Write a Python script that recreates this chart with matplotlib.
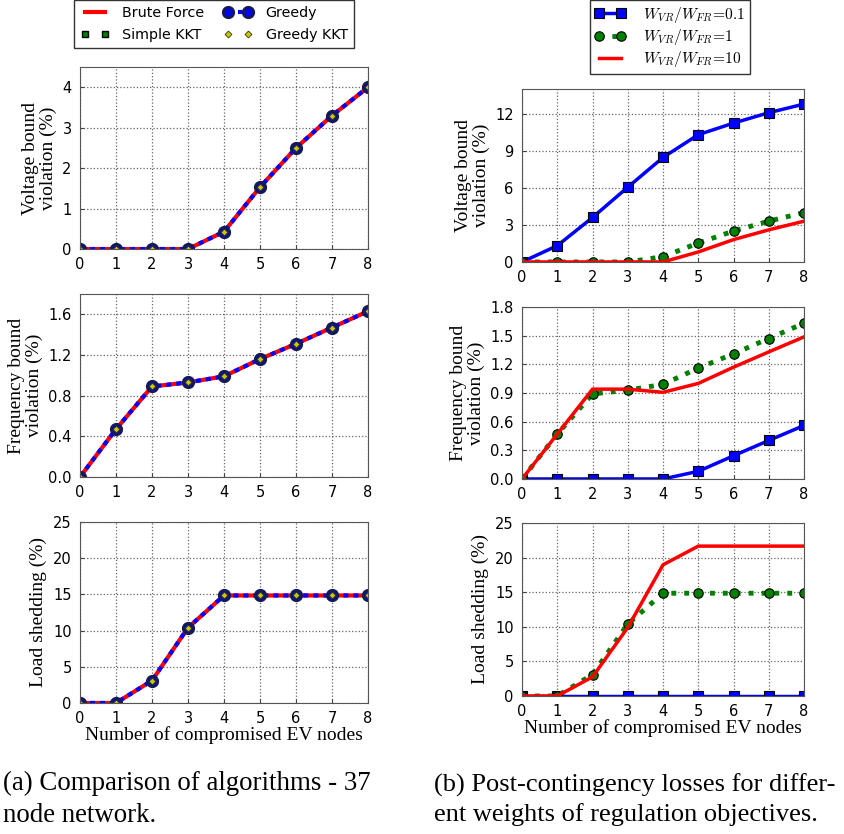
import numpy as np
import matplotlib
matplotlib.use("Agg")
import matplotlib.pyplot as plt

plt.rcParams['mathtext.fontset'] = 'cm'

# x axis: number of compromised EV nodes
nodes = [0, 1, 2, 3, 4, 5, 6, 7, 8]

# (a) comparison of algorithms - all four algorithms give the same values
volt_a = [0, 0, 0, 0, 0.43, 1.53, 2.5, 3.3, 4.0]
freq_a = [0, 0.47, 0.89, 0.93, 0.99, 1.16, 1.31, 1.47, 1.63]
load_a = [0, 0, 3.1, 10.4, 14.85, 14.85, 14.85, 14.85, 14.85]

# (b) different weights W_VR/W_FR = 0.1, 1, 10
volt_01 = [0, 1.32, 3.6, 6.05, 8.46, 10.3, 11.24, 12.08, 12.78]
volt_1 = [0, 0, 0, 0, 0.43, 1.53, 2.5, 3.3, 4.0]
volt_10 = [0, 0, 0, 0, 0, 0.81, 1.81, 2.6, 3.3]

freq_01 = [0, 0, 0, 0, 0, 0.08, 0.243, 0.403, 0.56]
freq_1 = [0, 0.47, 0.89, 0.93, 0.99, 1.16, 1.31, 1.47, 1.63]
freq_10 = [0, 0.47, 0.94, 0.94, 0.907, 1.0, 1.17, 1.33, 1.487]

load_01 = [0, 0, 0, 0, 0, 0, 0, 0, 0]
load_1 = [0, 0, 3.1, 10.4, 14.85, 14.85, 14.85, 14.85, 14.85]
load_10 = [0, 0, 2.76, 9.9, 18.96, 21.66, 21.66, 21.66, 21.66]

algo_labels = ["Brute Force", "Simple KKT", "Greedy", "Greedy KKT"]
weight_labels = [r"$W_{VR}/W_{FR}\!=\!0.1$", r"$W_{VR}/W_{FR}\!=\!1$",
                 r"$W_{VR}/W_{FR}\!=\!10$"]

ylabels = ["Voltage bound\nviolation (%)", "Frequency bound\nviolation (%)",
           "Load shedding (%)"]

serif = ['Liberation Serif', 'DejaVu Serif']

fig = plt.figure(figsize=(8.45, 8.34), dpi=100)

left_pos = [[0.0947, 0.7014, 0.3408, 0.2182],
            [0.0947, 0.4281, 0.3408, 0.2194],
            [0.0947, 0.1571, 0.3408, 0.2170]]
right_pos = [[0.6178, 0.6859, 0.3337, 0.2074],
             [0.6178, 0.4257, 0.3337, 0.2062],
             [0.6178, 0.1655, 0.3337, 0.2074]]


def style_axis(ax, ylim, yticks, fmt, ylabel, xlabel=False):
    ax.set_xlim(0, 8)
    ax.set_xticks(nodes)
    ax.set_ylim(*ylim)
    ax.set_yticks(yticks)
    ax.set_yticklabels([fmt.format(t) for t in yticks])
    ax.grid(True, linestyle=':', color='#666666', linewidth=0.9)
    ax.set_axisbelow(True)
    ax.tick_params(direction='in', labelsize=10.5, length=3, pad=6,
                   color='#444444')
    for sp in ax.spines.values():
        sp.set_color('#555555')
    ax.set_ylabel(ylabel, family=serif, fontsize=14, linespacing=1.0, labelpad=4)
    if xlabel:
        ax.set_xlabel("Number of compromised EV nodes", family=serif,
                      fontsize=14, labelpad=0)


# ---- (a) ----
data_a = [volt_a, freq_a, load_a]
lims_a = [(0, 4.5), (0, 1.8), (0, 25)]
ticks_a = [[0, 1, 2, 3, 4], [0, 0.4, 0.8, 1.2, 1.6], [0, 5, 10, 15, 20, 25]]
fmts_a = ["{:.0f}", "{:.1f}", "{:.0f}"]
for i in range(3):
    ax = fig.add_axes(left_pos[i])
    y = data_a[i]
    h1, = ax.plot(nodes, y, '-', color='red', lw=3, label=algo_labels[0])
    h2, = ax.plot(nodes, y, 's', color='green', mec='black', ms=5, label=algo_labels[1])
    h3, = ax.plot(nodes, y, 'o', color='blue', ls=(0, (1.2, 1.2)), lw=3,
                  mec='#141a55', mew=2, ms=7.5, label=algo_labels[2])
    h4, = ax.plot(nodes, y, 'D', color='#c8c800', mec='#333300', mew=0.6, ms=3.5,
                  label=algo_labels[3])
    style_axis(ax, lims_a[i], ticks_a[i], fmts_a[i], ylabels[i], xlabel=(i == 2))

fig.legend(handles=[h1, h2, h3, h4], loc='upper left', ncol=2, numpoints=2,
           bbox_to_anchor=(74 / 845, 1.0), borderaxespad=0, fontsize=10.3,
           frameon=True, fancybox=False, edgecolor='black', handlelength=2.0,
           handletextpad=0.9, columnspacing=1.4, borderpad=0.45,
           labelspacing=0.5)

# ---- (b) ----
data_b = [(volt_01, volt_1, volt_10), (freq_01, freq_1, freq_10),
          (load_01, load_1, load_10)]
lims_b = [(0, 14), (0, 1.8), (0, 25)]
ticks_b = [[0, 3, 6, 9, 12], [0, 0.3, 0.6, 0.9, 1.2, 1.5, 1.8],
           [0, 5, 10, 15, 20, 25]]
fmts_b = ["{:.0f}", "{:.1f}", "{:.0f}"]
for i in range(3):
    ax = fig.add_axes(right_pos[i])
    y01, y1, y10 = data_b[i]
    g1, = ax.plot(nodes, y01, 's-', color='blue', lw=2.5, ms=6.5, mec='black',
                  mew=0.8, label=weight_labels[0])
    g2, = ax.plot(nodes, y1, 'o', ls=':', color='green', lw=3.5, ms=6.8,
                  mfc='green', mec='black', mew=0.8, label=weight_labels[1])
    g3, = ax.plot(nodes, y10, '-', color='red', lw=2.5, label=weight_labels[2])
    style_axis(ax, lims_b[i], ticks_b[i], fmts_b[i], ylabels[i], xlabel=(i == 2))

fig.legend(handles=[g1, g2, g3], loc='upper left', numpoints=2,
           bbox_to_anchor=(590 / 845, 1.0), borderaxespad=0, fontsize=11.2,
           frameon=True, fancybox=False, edgecolor='black', handlelength=2.0,
           handletextpad=1.1, borderpad=0.3, labelspacing=0.15)

# captions
cap = dict(family=serif, fontsize=19.4, va='center', ha='left')
fig.text(3 / 845, 1 - 783 / 834, "(a) Comparison of algorithms - 37", **cap)
fig.text(3 / 845, 1 - 815 / 834, "node network.", **cap)
cap['fontsize'] = 19.0
fig.text(434 / 845, 1 - 785 / 834, "(b) Post-contingency losses for differ-", **cap)
fig.text(434 / 845, 1 - 815 / 834, "ent weights of regulation objectives.", **cap)

fig.savefig("out.png", dpi=100)
